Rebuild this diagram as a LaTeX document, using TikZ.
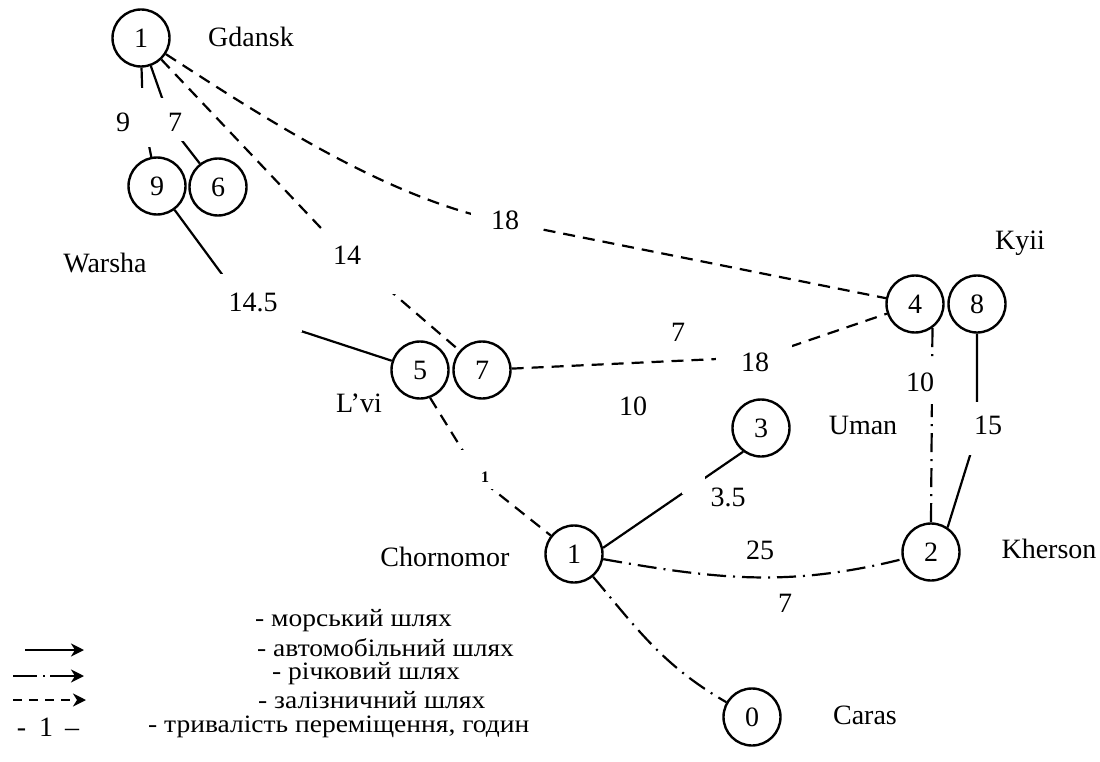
\documentclass[tikz,border=0pt]{standalone}
\usepackage{fontspec}
\setmainfont{Liberation Serif}
\newfontfamily\legendfont[FakeStretch=1.1]{Liberation Serif}
\usetikzlibrary{arrows.meta}

\begin{document}
\begin{tikzpicture}[x=1pt,y=1pt,
  every node/.style={font=\fontsize{28}{30}\selectfont, inner sep=0pt},
  city/.style={circle, draw, line width=2.4pt, minimum size=57pt, inner sep=0pt},
  road/.style={line width=2.2pt},
  rail/.style={line width=2.2pt, dash pattern=on 12pt off 8pt},
  river/.style={line width=2.2pt, dash pattern=on 19pt off 7pt on 2pt off 7pt},
  gapmask/.style={fill=white},
  legtext/.style={anchor=west, font=\legendfont\fontsize{25}{26}\selectfont},
  tip/.style={-{Stealth[length=13pt,width=13pt,inset=4pt]}},
  smalllabel/.style={font=\fontsize{16}{17}\selectfont\bfseries},
]
\useasboundingbox (0,0) rectangle (1100,-762);
\fill[white] (0,0) rectangle (1100,-762);

% stations
\node[city] (g1) at (141,-38) {1};
\node[city] (n9) at (157,-186) {9};
\node[city] (n6) at (218,-187) {6};
\node[city] (n5) at (420,-370) {5};
\node[city] (n7) at (482,-370) {7};
\node[city] (n4) at (915,-304) {4};
\node[city] (n8) at (977,-304) {8};
\node[city] (n3) at (761,-428) {3};
\node[city] (n2) at (931,-552) {2};
\node[city] (c1) at (574,-554) {1};
\node[city] (n0) at (752,-717) {0};

% bends of the routes, hidden under the duration labels
\coordinate (w1) at (252,-315);
\coordinate (w2) at (760,-357);
\coordinate (w3) at (481,-480);
\coordinate (w4) at (337,-245);
\coordinate (w5) at (505,-222);
\coordinate (w6) at (143,-115);
\coordinate (w7) at (173,-129);
\coordinate (w8) at (977,-433);

% routes
\draw[road] (g1.-89) -- (w6) -- (n9);
\draw[road] (g1) -- (w7) -- (n6);
\draw[rail] (g1) -- (w4) -- (n7);
\draw[rail] (g1) to[out=-33,in=169,looseness=0.8] (w5) -- (n4);
\draw[road] (n9) -- (w1) -- (n5);
\draw[rail] (n7) -- (w2) -- (n4);
\draw[rail] (n5.-70) -- (w3) -- (c1);
\draw[road] (c1.12) -- (n3.233);
\draw[river] (c1) to[out=-10,in=-166] (n2);
\draw[river] (c1) to[out=-50,in=150] (n0);
\draw[river] (n4.-54) -- (n2.north);
\draw[road] (n8.south) -- (w8) -- (n2.56);

% breaks in the routes around the labels
\fill[gapmask] (108,-88) rectangle (156,-147);
\fill[gapmask] (160,-98) rectangle (190,-141);
\fill[gapmask] (318,-232) rectangle (400,-294);
\fill[gapmask] (471,-200) rectangle (537,-240);
\fill[gapmask] (220,-274) rectangle (302,-332);
\fill[gapmask] (716,-338) rectangle (792,-380);
\fill[gapmask] (459,-450) rectangle (494,-489);
\fill[gapmask] (682,-476) rectangle (705,-494);
\fill[gapmask] (904,-359) rectangle (944,-404);
\fill[gapmask] (962,-402) rectangle (1002,-455);

% travel times
\node (t9) at (123,-122) {9};
\node (t7a) at (175,-122) {7};
\node (t18a) at (505,-220) {18};
\node (t14) at (347,-255) {14};
\node (t145) at (253,-302) {14.5};
\node (t7b) at (678,-332) {7};
\node (t18b) at (755,-362) {18};
\node (t10a) at (633,-406) {10};
\node[smalllabel] (t1) at (485,-477) {1};
\node (t35) at (728,-497) {3.5};
\node (t25) at (760,-550) {25};
\node (t7c) at (785,-603) {7};
\node (t10b) at (920,-382) {10};
\node (t15) at (988,-425) {15};

% city names
\node (lgd) at (251,-37) {Gdansk};
\node (lwa) at (105,-263) {Warsha};
\node (llv) at (359,-403) {L’vi};
\node (lch) at (445,-557) {Chornomor};
\node (lky) at (1020,-243) {Kyii};
\node (lum) at (863,-425) {Uman};
\node (lkh) at (1049,-549) {Kherson};
\node (lca) at (865,-715) {Caras};

% legend
\node[legtext] (k1) at (255,-621) {- морський шлях};
\node[legtext] (k2) at (257,-648) {- автомобільний шлях};
\node[legtext] (k3) at (272,-674) {- річковий шлях};
\node[legtext] (k4) at (258,-700) {- залізничний шлях};
\node[legtext] (k5) at (148,-727) {- тривалість переміщення, годин};

\coordinate (a2s) at (25,-650);  \coordinate (a2e) at (84,-650);
\coordinate (a3s) at (13,-676);  \coordinate (a3e) at (84,-676);
\coordinate (a4s) at (13,-700);  \coordinate (a4e) at (86,-700);
\draw[road,tip] (a2s) -- (a2e);
\draw[line width=2.2pt,tip,dash pattern=on 24pt off 6pt on 2pt off 5pt on 60pt] (a3s) -- (a3e);
\draw[line width=2.2pt,tip,dash pattern=on 9pt off 7pt] (a4s) -- (a4e);
\node (k5s) at (48,-727) {-\hspace{13pt}1\hspace{12pt}–};
\end{tikzpicture}
\end{document}
